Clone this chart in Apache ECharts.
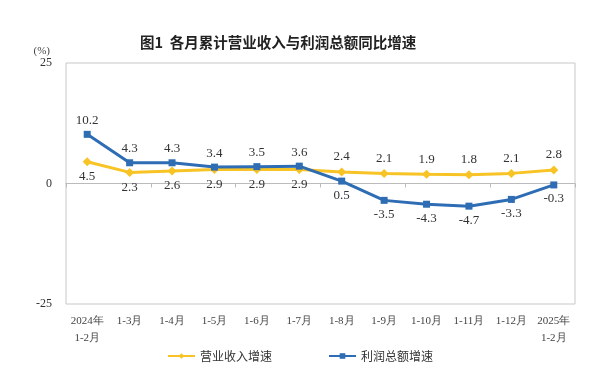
<!DOCTYPE html>
<html><head><meta charset="utf-8">
<script src="https://cdn.jsdelivr.net/npm/echarts@6/dist/echarts.min.js"></script>
<style>html,body{margin:0;padding:0;background:#fff}#c{width:600px;height:385px}</style>
</head><body><div id="c"></div>
<script>
var categories = ['2024年\n1-2月','1-3月','1-4月','1-5月','1-6月','1-7月','1-8月','1-9月','1-10月','1-11月','1-12月','2025年\n1-2月'];
var revenue = [4.5,2.3,2.6,2.9,2.9,2.9,2.4,2.1,1.9,1.8,2.1,2.8];
var profit = [10.2,4.3,4.3,3.4,3.5,3.6,0.5,-3.5,-4.3,-4.7,-3.3,-0.3];
var revLabelPos = ['bottom','bottom','bottom','bottom','bottom','bottom','top','top','top','top','top','top'];
var profLabelPos = ['top','top','top','top','top','top','bottom','bottom','bottom','bottom','bottom','bottom'];
var yTicks = [-25,0,25];

var serif = '"Liberation Serif","Times New Roman",serif';
var cjk = '"Noto Sans CJK SC",sans-serif';
function mk(vals, pos){ return vals.map(function(v,i){return {value:v,label:{position:pos[i]}};}); }
var chart = echarts.init(document.getElementById('c'));
chart.setOption({
  animation:false,
  title:{text:'图1  各月累计营业收入与利润总额同比增速',left:135,top:30,
    textStyle:{fontFamily:cjk,fontSize:14.5,fontWeight:'bold',color:'#222'}},
  grid:{left:66,right:25,top:63,bottom:81,show:true,borderColor:'#c8c8c8',borderWidth:1},
  legend:{bottom:18,left:'center',itemGap:56,itemWidth:27,itemHeight:7,
    textStyle:{fontFamily:cjk,fontSize:12,color:'#333'},
    data:['营业收入增速','利润总额增速']},
  xAxis:[{type:'category',data:categories,position:'bottom',
      axisLine:{show:false,onZero:false},axisTick:{show:false},
      axisLabel:{interval:0,fontFamily:serif,fontSize:11,color:'#444',margin:9,lineHeight:17}},
    {type:'category',data:categories,position:'bottom',
      axisLine:{show:true,onZero:true,lineStyle:{color:'#bbb'}},
      axisTick:{show:true,length:4,inside:false,lineStyle:{color:'#bbb'}},
      axisLabel:{show:false}}],
  yAxis:{type:'value',min:yTicks[0],max:yTicks[2],interval:25,
    name:'(%)',nameLocation:'end',nameGap:4,
    nameTextStyle:{fontFamily:serif,fontSize:11,color:'#444',align:'right',padding:[0,16,0,0]},
    axisLine:{show:false},axisTick:{show:false},splitLine:{show:false},
    axisLabel:{fontFamily:serif,fontSize:12,color:'#333',margin:14}},
  series:[
    {name:'营业收入增速',type:'line',data:mk(revenue,revLabelPos),color:'#F7C325',
      lineStyle:{width:3,color:'#F7C325'},symbol:'diamond',symbolSize:9,
      itemStyle:{color:'#F7C325'},
      label:{show:true,fontFamily:serif,fontSize:13,color:'#333',distance:4}},
    {name:'利润总额增速',type:'line',data:mk(profit,profLabelPos),color:'#2E6DB4',
      lineStyle:{width:3,color:'#2E6DB4'},symbol:'rect',symbolSize:7,
      itemStyle:{color:'#2E6DB4'},
      label:{show:true,fontFamily:serif,fontSize:13,color:'#333',distance:4}}
  ]
});
</script></body></html>
